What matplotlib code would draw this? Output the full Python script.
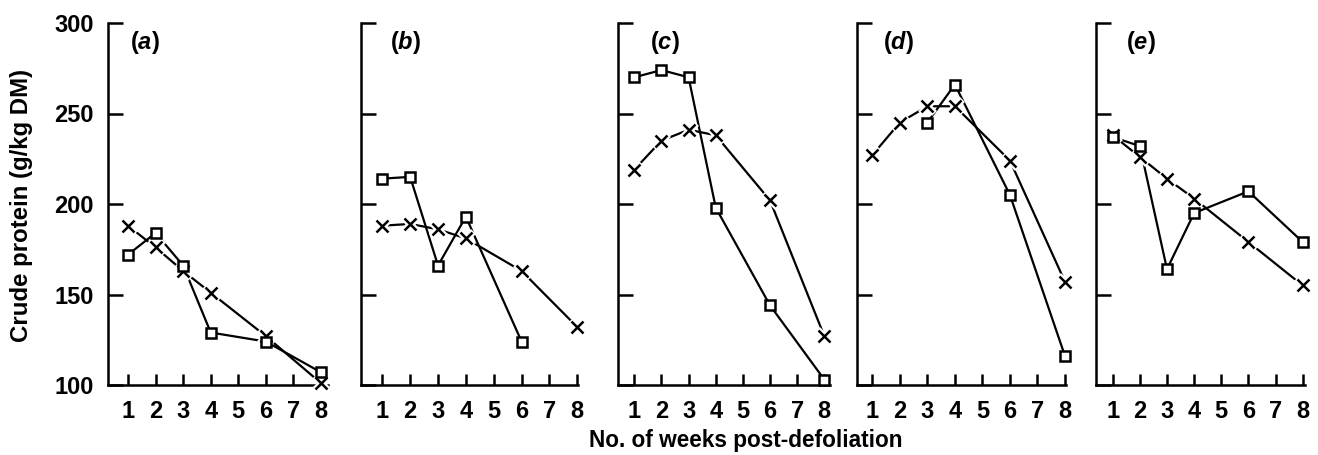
import numpy as np
import matplotlib
matplotlib.use("Agg")
import matplotlib.pyplot as plt

plt.rcParams['font.family'] = ['Liberation Sans', 'DejaVu Sans']
plt.rcParams['font.weight'] = 'bold'
plt.rcParams['mathtext.fontset'] = 'custom'
plt.rcParams['mathtext.it'] = 'Liberation Sans:italic:bold'
plt.rcParams['mathtext.rm'] = 'Liberation Sans:bold'

weeks = [1, 2, 3, 4, 6, 8]
panel_labels = ['a', 'b', 'c', 'd', 'e']

# open squares series
sq_a = [172, 184, 166, 129, 124, 107]
sq_b = [214, 215, 166, 193, 124, np.nan]
sq_c = [270, 274, 270, 198, 144, 103]
sq_d = [np.nan, np.nan, 245, 266, 205, 116]
sq_e = [237, 232, 164, 195, 207, 179]

# crosses series
x_a = [188, 176, 163, 151, 127, 101]
x_b = [188, 189, 186, 181, 163, 132]
x_c = [219, 235, 241, 238, 202, 127]
x_d = [227, 245, 254, 254, 224, 157]
x_e = [238, 226, 214, 203, 179, 155]

squares = [sq_a, sq_b, sq_c, sq_d, sq_e]
crosses = [x_a, x_b, x_c, x_d, x_e]

xticks = [1, 2, 3, 4, 5, 6, 7, 8]
yticks = [100, 150, 200, 250, 300]

W, H = 1318, 455
fig = plt.figure(figsize=(W / 100, H / 100), dpi=100)

# layout in pixels: spine left, tick 1, tick 8, right end
layout = [(108, 128, 321, 328),
          (361, 382.3, 577.3, 578),
          (618, 634.3, 824.3, 830),
          (857, 872.3, 1065, 1066),
          (1096, 1112.7, 1302.7, 1305)]
label_off = [22, 29, 32, 26, 30]
top_px, bot_px = 23, 385

fs = 17
for i, (l, t1, t8, r) in enumerate(layout):
    ax = fig.add_axes([l / W, 1 - bot_px / H, (r - l) / W, (bot_px - top_px) / H])
    s = (t8 - t1) / 7
    ax.set_xlim(1 - (t1 - l) / s, 8 + (r - t8) / s)
    ax.set_ylim(100, 300)
    for sp in ['top', 'right']:
        ax.spines[sp].set_visible(False)
    for sp in ['left', 'bottom']:
        ax.spines[sp].set_linewidth(1.8)
    ax.set_xticks(xticks)
    ax.set_yticks(yticks)
    ax.tick_params(axis='x', direction='in', length=8, width=1.8, pad=11, labelsize=fs)
    ax.tick_params(axis='y', direction='in', length=11, width=1.8, pad=10, labelsize=fs)
    if i > 0:
        ax.set_yticklabels([])
    sq = np.array(squares[i], dtype=float)
    cr = np.array(crosses[i], dtype=float)
    wk = np.array(weeks)
    ms = ~np.isnan(sq)
    ax.plot(wk[ms], sq[ms], color='black', lw=1.6, zorder=2, clip_on=False)
    ax.plot(wk, cr, color='black', lw=1.6, zorder=2, clip_on=False)
    ax.plot(wk, cr, ls='none', marker='x', ms=10, mew=5, color='white', zorder=3, clip_on=False)
    ax.plot(wk, cr, ls='none', marker='x', ms=8, mew=1.8, color='black', zorder=4, clip_on=False)
    ax.plot(wk[ms], sq[ms], ls='none', marker='s', ms=7, mew=1.8, mfc='white', mec='black',
            zorder=5, clip_on=False)
    fig.text((l + label_off[i]) / W, 1 - 42 / H, r'($\mathit{' + panel_labels[i] + r'}$)',
             fontsize=fs, fontweight='bold', ha='left', va='center')

fig.text(22 / W, 1 - 205 / H, 'Crude protein (g/kg DM)', fontsize=17.3, fontweight='bold',
         rotation=90, ha='center', va='center')
fig.text(746 / W, 1 - 441 / H, 'No. of weeks post-defoliation', fontsize=16.3,
         fontweight='bold', ha='center', va='center')

fig.savefig('out.png', dpi=100)
